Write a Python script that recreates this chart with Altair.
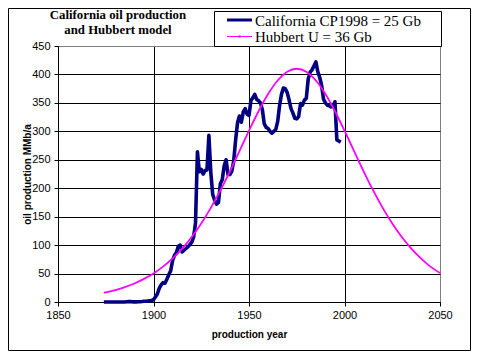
import altair as alt
import pandas as pd

title_lines = ["California oil production", "and Hubbert model"]
series_names = ["California CP1998 = 25 Gb", "Hubbert U = 36 Gb"]
x_title = "production year"
y_title = "oil production MMb/a"
x_ticks = [1850, 1900, 1950, 2000, 2050]
y_ticks = [0, 50, 100, 150, 200, 250, 300, 350, 400, 450]

# California production (Mb/a), yearly 1874-1998
cal_years = list(range(1874, 1999))
cal_values = [
    0.0, 0.0, 0.0, 0.0, 0.0, 0.0,                                # 1874-1879
    0.0, 0.1, 0.1, 0.1, 0.1, 0.1, 0.4, 0.7, 0.7, 0.3,            # 1880s
    0.3, 0.3, 0.4, 0.5, 0.8, 1.2, 1.3, 1.9, 2.3, 2.6,            # 1890s
    4.3, 8.8, 14, 24, 30, 34, 33, 40, 48, 55,                    # 1900s
    73, 82, 87, 98, 100, 88, 91, 94, 97, 101,                    # 1910s
    105, 114, 139, 264, 229, 233, 225, 231, 232, 293,            # 1920s
    228, 189, 179, 172, 175, 208, 215, 239, 250, 224,            # 1930s
    224, 230, 248, 285, 315, 327, 316, 334, 340, 330,            # 1940s
    328, 354, 359, 365, 356, 354, 350, 338, 313, 307,            # 1950s
    305, 300, 297, 300, 303, 317, 345, 365, 376, 375,            # 1960s
    368, 355, 340, 332, 323, 322, 326, 349, 346, 355,            # 1970s
    358, 392, 404, 408, 415, 422, 405, 395, 381, 357,            # 1980s
    350, 346, 345, 343, 344, 352, 285, 283, 281,                 # 1990-1998
]

hub_years = [1874, 1875, 1880, 1885, 1890, 1895, 1900, 1905, 1910, 1915,
             1920, 1925, 1930, 1935, 1940, 1945, 1950, 1955, 1960, 1965,
             1970, 1975, 1980, 1985, 1990, 1995, 2000, 2005, 2010, 2015,
             2020, 2025, 2030, 2035, 2040, 2045, 2050]
hub_values = [16.1, 16.8, 21.0, 26.2, 32.6, 40.6, 50.3, 62.2, 76.6, 93.8,
              114.2, 138.1, 165.5, 196.2, 229.8, 265.3, 301.1, 335.3, 365.6, 389.4,
              404.7, 410.0, 404.7, 389.4, 365.6, 335.3, 301.1, 265.3, 229.8, 196.2,
              165.5, 138.1, 114.2, 93.8, 76.6, 62.2, 51.0]

cal_df = pd.DataFrame({"year": cal_years, "value": cal_values})
hub_df = pd.DataFrame({"year": hub_years, "value": hub_values})
one = pd.DataFrame({"k": [0]})

NAVY = "#000080"
MAGENTA = "#FF00FF"
W, H = 382, 256

x_scale = alt.Scale(domain=[1850, 2050], nice=False, zero=False)
y_scale = alt.Scale(domain=[0, 450], nice=False)

x_axis = alt.Axis(
    values=x_ticks, format="d", title=x_title, labelFlush=False,
    gridColor={"condition": {"test": "datum.value == 2050", "value": "#808080"}, "value": "black"},
    titleX=191, titleY=32, titleAlign="center", titleBaseline="middle",
    labelPadding=3,
)
y_axis = alt.Axis(
    values=y_ticks, title=y_title,
    gridColor={"condition": {"test": "datum.value == 450", "value": "#808080"}, "value": "black"},
    titleX=-31, titleY=128, titleAlign="center", titleBaseline="middle",
    labelPadding=4,
)

cal = alt.Chart(cal_df).mark_line(color=NAVY, strokeWidth=3.6, strokeJoin="round").encode(
    x=alt.X("year:Q", scale=x_scale, axis=x_axis),
    y=alt.Y("value:Q", scale=y_scale, axis=y_axis),
)
hub = alt.Chart(hub_df).mark_line(color=MAGENTA, strokeWidth=1.8, interpolate="monotone").encode(
    x=alt.X("year:Q", scale=x_scale, axis=x_axis),
    y=alt.Y("value:Q", scale=y_scale, axis=y_axis),
)

frame = alt.Chart(one).mark_rect(filled=False, stroke="black", strokeWidth=1).encode(
    x=alt.value(-49.5), x2=alt.value(412.5), y=alt.value(-37.5), y2=alt.value(304.5)
)

legend_box = alt.Chart(one).mark_rect(fill="white", stroke="black", strokeWidth=1).encode(
    x=alt.value(156.5), x2=alt.value(383.5), y=alt.value(-34.5), y2=alt.value(0.5)
)
leg_line1 = alt.Chart(one).mark_rule(color=NAVY, strokeWidth=3).encode(
    x=alt.value(169), x2=alt.value(194), y=alt.value(-26)
)
leg_line2 = alt.Chart(one).mark_rule(color=MAGENTA, strokeWidth=1).encode(
    x=alt.value(169), x2=alt.value(194), y=alt.value(-9.5)
)
leg_pt2 = alt.Chart(one).mark_square(color=MAGENTA, size=5, opacity=1).encode(
    x=alt.value(181.5), y=alt.value(-9.5)
)
leg_txt1 = alt.Chart(one).mark_text(align="left", baseline="middle", font="Liberation Serif",
                                    fontSize=15, color="black").encode(
    x=alt.value(197), y=alt.value(-25.5), text=alt.value(series_names[0])
)
leg_txt2 = alt.Chart(one).mark_text(align="left", baseline="middle", font="Liberation Serif",
                                    fontSize=15, color="black").encode(
    x=alt.value(197), y=alt.value(-9), text=alt.value(series_names[1])
)

t1 = alt.Chart(one).mark_text(align="center", baseline="middle", font="Liberation Serif",
                              fontWeight="bold", fontSize=12.8, color="black").encode(
    x=alt.value(60), y=alt.value(-31), text=alt.value(title_lines[0])
)
t2 = alt.Chart(one).mark_text(align="center", baseline="middle", font="Liberation Serif",
                              fontWeight="bold", fontSize=12.8, color="black").encode(
    x=alt.value(60), y=alt.value(-16.5), text=alt.value(title_lines[1])
)

chart = alt.layer(
    cal, hub, frame, legend_box, leg_line1, leg_line2, leg_pt2, leg_txt1, leg_txt2, t1, t2
).properties(
    width=W, height=H,
    autosize=alt.AutoSizeParams(type="none"),
    padding={"left": 50, "top": 38, "right": 31, "bottom": 49},
    background="white",
).configure_view(
    stroke="#808080", strokeWidth=1, fill="white"
).configure_axis(
    domainColor="black", domainWidth=1, tickColor="black", tickSize=4, tickWidth=1,
    gridWidth=1, labelColor="black",
    labelFont="Liberation Sans Narrow, Arial Narrow, Liberation Sans", labelFontSize=11,
    titleFont="Liberation Sans", titleFontWeight="bold", titleFontSize=10, titleColor="black",
)

chart.save("out.html", embed_options={"renderer": "svg", "actions": False})
